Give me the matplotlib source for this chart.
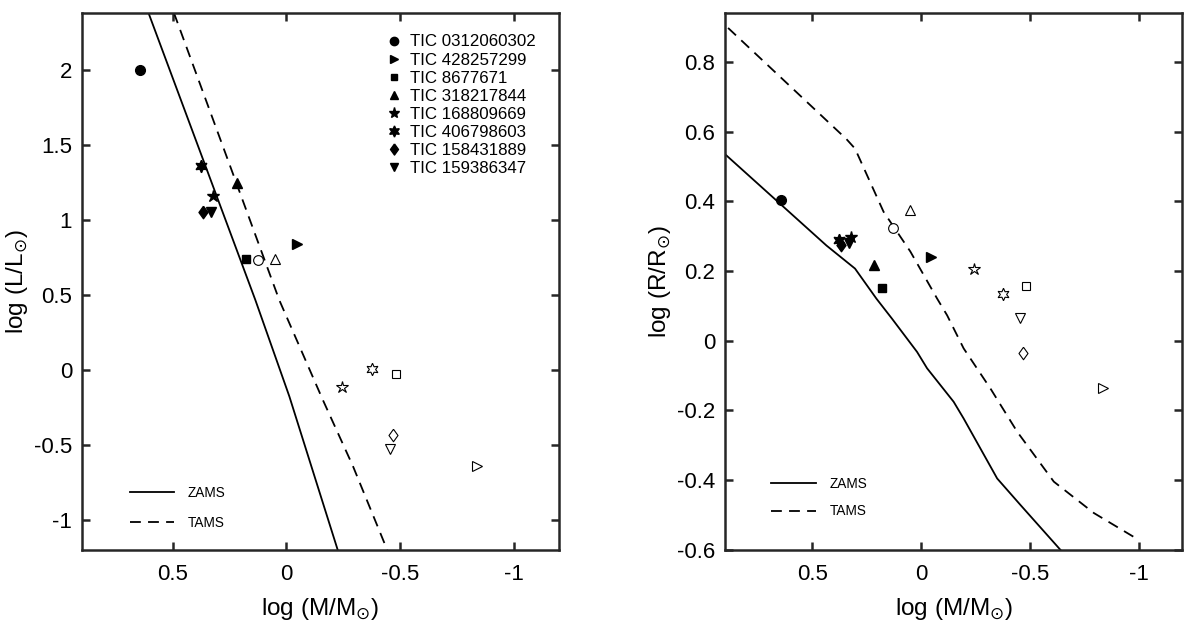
import numpy as np
import matplotlib
matplotlib.use('Agg')
from matplotlib import pyplot as plt
from matplotlib.lines import Line2D

plt.rcParams['font.family'] = ['Liberation Sans', 'DejaVu Sans']

# stars: names and marker shapes
names = ['TIC 0312060302', 'TIC 428257299', 'TIC 8677671', 'TIC 318217844',
         'TIC 168809669', 'TIC 406798603', 'TIC 158431889', 'TIC 159386347']
diamond = [(0, 1), (0.72, 0), (0, -1), (-0.72, 0), (0, 1)]
markers = ['o', '>', 's', '^', '*', (6, 1, 0), diamond, 'v']
msizes = [7, 7, 6, 7, 9, 9, 9, 7]

# filled symbols
mass_f = [0.644, -0.047, 0.178, 0.217, 0.322, 0.378, 0.369, 0.332]
logL_f = [2.0, 0.838, 0.74, 1.248, 1.16, 1.361, 1.055, 1.055]
logR_f = [0.405, 0.239, 0.152, 0.217, 0.298, 0.289, 0.275, 0.281]

# open symbols
mass_o = [0.127, -0.837, -0.484, 0.05, -0.244, -0.376, -0.469, -0.454]
logL_o = [0.734, -0.641, -0.025, 0.742, -0.113, 0.007, -0.432, -0.53]
logR_o = [0.322, -0.135, 0.158, 0.374, 0.206, 0.133, -0.034, 0.066]

# ZAMS / TAMS in the L-M plane
zamsL_m = [0.607, 0.137, -0.013, -0.226]
zamsL_L = [2.38, 0.468, -0.176, -1.2]
tamsL_m = [0.495, 0.031, -0.16, -0.293, -0.444]
tamsL_L = [2.38, 0.465, -0.198, -0.641, -1.2]

# ZAMS / TAMS in the R-M plane
zamsR_m = [0.9, 0.434, 0.303, 0.205, 0.134, 0.018, -0.028, -0.15, -0.196, -0.35, -0.457, -0.641]
zamsR_R = [0.535, 0.273, 0.207, 0.121, 0.064, -0.032, -0.079, -0.175, -0.223, -0.395, -0.471, -0.6]
tamsR_m = [0.886, 0.342, 0.303, 0.172, 0.049, -0.074, -0.12, -0.196, -0.319, -0.442, -0.61, -0.794, -1.0]
tamsR_R = [0.897, 0.578, 0.551, 0.37, 0.256, 0.121, 0.073, -0.022, -0.137, -0.261, -0.404, -0.494, -0.571]

fig = plt.figure(figsize=(12, 6.23), dpi=100)
ax1 = fig.add_axes([0.0683, 0.1172, 0.3975, 0.862])
ax2 = fig.add_axes([0.6042, 0.1172, 0.381, 0.862])

spine_c = '#262626'
dash = (0, (6, 4))


def style(ax):
    for s in ax.spines.values():
        s.set_linewidth(1.8)
        s.set_color(spine_c)
    ax.tick_params(direction='in', length=6, width=1.8, color=spine_c,
                   top=True, right=True, labelsize=16)
    ax.tick_params(axis='x', pad=10)
    ax.tick_params(axis='y', pad=7)
    ax.set_xlim(0.9, -1.2)
    ax.set_xticks([0.5, 0, -0.5, -1])
    ax.set_xticklabels(['0.5', '0', '-0.5', '-1'])
    ax.set_xlabel(r'log (M/M$_{\odot}$)', fontsize=17.5)
    ax.xaxis.set_label_coords(0.5, -0.086)


def draw(ax, yf, yo, zm, zy, tm, ty):
    z, = ax.plot(zm, zy, color='k', lw=1.3)
    t, = ax.plot(tm, ty, color='k', lw=1.3, linestyle=dash)
    for i in range(len(names)):
        ax.plot(mass_f[i], yf[i], linestyle='none', marker=markers[i],
                ms=msizes[i], color='k', mec='k')
        ax.plot(mass_o[i], yo[i], linestyle='none', marker=markers[i],
                ms=msizes[i], mfc='white', mec='k', mew=0.8)
    return z, t


style(ax1)
style(ax2)

z1, t1 = draw(ax1, logL_f, logL_o, zamsL_m, zamsL_L, tamsL_m, tamsL_L)
z2, t2 = draw(ax2, logR_f, logR_o, zamsR_m, zamsR_R, tamsR_m, tamsR_R)

ax1.set_ylim(-1.2, 2.38)
ax1.set_yticks([-1, -0.5, 0, 0.5, 1, 1.5, 2])
ax1.set_yticklabels(['-1', '-0.5', '0', '0.5', '1', '1.5', '2'])
ax1.set_ylabel(r'log (L/L$_{\odot}$)', fontsize=17.5)
ax1.yaxis.set_label_coords(-0.109, 0.5)

ax2.set_ylim(-0.6, 0.94)
ax2.set_yticks([-0.6, -0.4, -0.2, 0, 0.2, 0.4, 0.6, 0.8])
ax2.set_yticklabels(['-0.6', '-0.4', '-0.2', '0', '0.2', '0.4', '0.6', '0.8'])
ax2.set_ylabel(r'log (R/R$_{\odot}$)', fontsize=17.5)
ax2.yaxis.set_label_coords(-0.114, 0.5)

# marker legend
handles = [Line2D([], [], linestyle='none', marker=markers[i], ms=msizes[i] - 1,
                  color='k') for i in range(len(names))]
leg = ax1.legend(handles, names, loc='upper left', bbox_to_anchor=(0.612, 0.982),
                 frameon=False, fontsize=12.2, handlelength=1.0, handletextpad=0.45,
                 labelspacing=0.18, borderpad=0.2)
ax1.add_artist(leg)

# line legends
ax1.legend([z1, t1], ['ZAMS', 'TAMS'], loc='lower left', bbox_to_anchor=(0.074, 0.014),
           frameon=False, fontsize=9.8, handlelength=3.3, handletextpad=1.0,
           labelspacing=1.2)
ax2.legend([z2, t2], ['ZAMS', 'TAMS'], loc='lower left', bbox_to_anchor=(0.074, 0.036),
           frameon=False, fontsize=9.8, handlelength=3.3, handletextpad=1.0,
           labelspacing=0.99)

plt.savefig('out.png', dpi=100)
